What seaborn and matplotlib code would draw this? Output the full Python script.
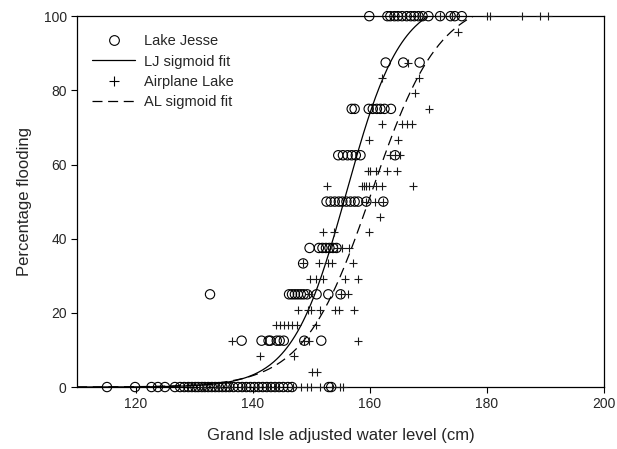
import numpy as np
import pandas as pd
import matplotlib
matplotlib.use("Agg")
import matplotlib.pyplot as plt
import seaborn as sns
from matplotlib.lines import Line2D

sns.set_theme(style="ticks")
plt.rcParams["font.family"] = ["Liberation Sans", "DejaVu Sans"]

# Lake Jesse observations (water level cm, percentage flooding)
lj_x = [115.1, 119.9, 122.7, 123.8, 125.0, 126.7, 127.6, 128.3, 129.0, 129.6,
        130.2, 130.7, 131.3, 131.8, 132.4, 133.0, 133.6, 134.2, 134.8, 135.4,
        136.0, 136.7, 137.5, 138.2, 138.9, 139.6, 140.3, 141.0, 141.7, 142.4,
        143.1, 143.8, 144.5, 145.2, 146.0, 146.7, 153.0, 153.4,
        138.1, 141.5, 142.7, 143.0, 144.1, 144.6, 145.3, 148.8, 151.7,
        132.7, 146.2, 146.7, 147.2, 147.7, 148.2, 148.7, 149.3, 150.9, 152.9, 155.0,
        148.6,
        149.7, 151.3, 151.9, 152.5, 153.1, 153.7, 154.3,
        152.6, 153.3, 154.0, 154.7, 155.3, 156.0, 156.7, 157.4, 158.0, 159.4, 162.3,
        154.6, 155.4, 156.2, 156.9, 157.6, 158.4, 164.3,
        156.9, 157.4, 159.8, 160.5, 161.2, 161.8, 162.5, 163.6,
        162.7, 165.7, 168.5,
        159.9, 163.0, 163.5, 164.2, 164.8, 165.5, 166.3, 167.0, 167.6, 168.3,
        169.0, 170.0, 172.0, 173.8, 174.5, 175.7]
lj_y = [0] * 38 + [12.5] * 9 + [25] * 11 + [33.33] + [37.5] * 7 + [50] * 11 \
    + [62.5] * 7 + [75] * 8 + [87.5] * 3 + [100] * 16

# Airplane Lake observations
al_x = [131.5, 134.0, 136.2, 138.5, 140.8, 142.6, 144.0, 146.9, 148.3, 149.2,
        149.9, 151.4, 153.5, 154.9, 155.4,
        150.2, 151.0,
        141.2, 147.0,
        136.4, 148.8, 149.6, 158.0,
        144.0, 144.7, 145.3, 146.0, 146.7, 147.5, 150.8,
        147.8, 149.5, 150.0, 151.5, 154.0, 154.8, 157.3,
        149.6, 155.0, 156.3,
        149.7, 150.8, 152.0, 155.7, 158.0,
        148.6, 151.3, 152.9, 153.6, 157.2,
        154.4, 155.3, 156.5,
        152.0, 153.9, 159.9,
        161.7,
        159.4, 160.8, 162.3,
        152.6, 158.6, 159.0, 159.4, 159.9, 161.1, 162.0, 167.4,
        159.6, 160.0, 161.1, 162.9, 164.7,
        163.5, 164.3, 165.2,
        159.8, 164.8,
        162.1, 165.5, 166.4, 167.2,
        170.1,
        167.7,
        162.1, 168.4,
        166.5,
        175.1,
        166.0, 168.5, 172.0, 174.0, 180.0, 180.6, 186.0, 189.0, 190.4]
al_y = [0] * 15 + [4.17] * 2 + [8.33] * 2 + [12.5] * 4 + [16.67] * 7 \
    + [20.83] * 7 + [25] * 3 + [29.17] * 5 + [33.33] * 5 + [37.5] * 3 \
    + [41.67] * 3 + [45.83] + [50] * 3 + [54.17] * 8 + [58.33] * 5 \
    + [62.5] * 3 + [66.67] * 2 + [70.83] * 4 + [75] + [79.17] + [83.33] * 2 \
    + [87.5] + [95.83] + [100] * 9

# sigmoid fit parameters: a / (1 + exp(-(x - x0) / b))
lj_fit = (105.0, 156.0, 4.65)
al_fit = (105.0, 160.3, 5.8)

lj = pd.DataFrame({"level": lj_x, "pct": lj_y})
al = pd.DataFrame({"level": al_x, "pct": al_y})

xs = np.linspace(110, 200, 400)


def sigmoid(x, p):
    a, x0, b = p
    return a / (1 + np.exp(-(x - x0) / b))


lj_curve = pd.DataFrame({"level": xs, "pct": sigmoid(xs, lj_fit)})
al_curve = pd.DataFrame({"level": xs, "pct": sigmoid(xs, al_fit)})

dash = (0, (8, 4.5))

fig = plt.figure(figsize=(6.17, 4.49), dpi=100)
ax = fig.add_axes([0.125, 0.138, 0.854, 0.826])

sns.lineplot(data=lj_curve, x="level", y="pct", ax=ax, color="black", lw=0.9)
sns.lineplot(data=al_curve, x="level", y="pct", ax=ax, color="black", lw=0.9,
             dashes=False, linestyle=dash)
sns.scatterplot(data=lj, x="level", y="pct", ax=ax, marker="o", s=45,
                facecolor="none", edgecolor="black", linewidth=0.8, clip_on=False,
                zorder=3)
sns.scatterplot(data=al, x="level", y="pct", ax=ax, marker="+", s=38,
                color="#1a1a1a", linewidth=0.8, clip_on=False, zorder=3)

ax.set_xlim(110, 200)
ax.set_ylim(0, 100)
ax.set_xticks([120, 140, 160, 180, 200])
ax.set_yticks([0, 20, 40, 60, 80, 100])
ax.tick_params(labelsize=10, length=4, width=0.8, color="black", direction="out")
for s in ax.spines.values():
    s.set_linewidth(0.9)
    s.set_color("black")
ax.set_xlabel("Grand Isle adjusted water level (cm)", fontsize=12, labelpad=12)
ax.set_ylabel("Percentage flooding", fontsize=12, labelpad=8)

handles = [
    Line2D([], [], marker="o", ls="none", mfc="none", mec="black", ms=7, mew=0.8),
    Line2D([], [], color="black", lw=0.9),
    Line2D([], [], marker="+", ls="none", color="black", ms=7, mew=0.8),
    Line2D([], [], color="black", lw=0.9, ls=dash),
]
labels = ["Lake Jesse", "LJ sigmoid fit", "Airplane Lake", "AL sigmoid fit"]
ax.legend(handles, labels, loc="upper left", frameon=False, fontsize=10.5,
          handlelength=3.0, handletextpad=0.6, borderaxespad=0.6,
          labelspacing=0.42, bbox_to_anchor=(0.0, 0.99))

fig.savefig("out.png", dpi=100)
